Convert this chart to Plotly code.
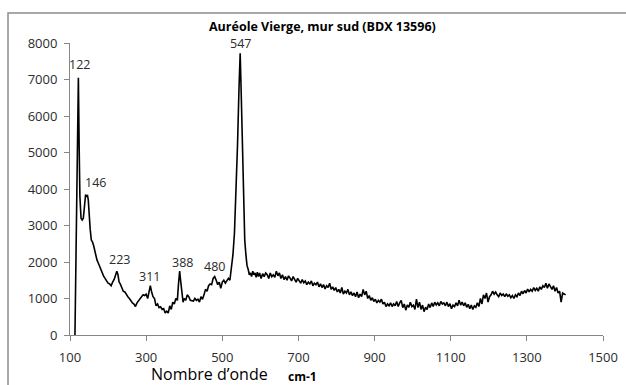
import plotly.graph_objects as go

# Raman spectrum (wavenumber cm-1, intensity)
wavenumber = [
    113, 116, 119, 122, 124, 126, 129, 132, 135, 138, 141, 143, 146, 148, 150, 153, 156, 159, 162, 165,
    168, 171, 174, 177, 180, 184, 188, 192, 196, 200, 204, 208, 212, 216, 220, 223, 226, 229, 232, 236,
    240, 244, 248, 252, 256, 260, 264, 268, 272, 276, 280, 284, 288, 292, 296, 300, 304, 308, 311, 314,
    318, 322, 326, 330, 334, 338, 342, 346, 350, 354, 358, 362, 366, 370, 374, 378, 382, 385, 388, 391,
    394, 397, 400, 404, 408, 412, 416, 420, 424, 428, 432, 436, 440, 444, 448, 452, 456, 460, 464, 468,
    472, 476, 480, 484, 488, 492, 496, 500, 504, 508, 512, 516, 520, 524, 528, 532, 536, 540, 544, 547,
    550, 553, 556, 559, 562, 565, 568, 571, 574, 577, 580, 583, 586, 589, 592, 595, 598, 602, 606, 610,
    614, 618, 622, 626, 630, 634, 638, 642, 646, 650, 654, 658, 662, 666, 670, 674, 678, 682, 686, 690,
    694, 698, 702, 706, 710, 714, 718, 722, 726, 730, 734, 738, 742, 746, 750, 754, 758, 762, 766, 770,
    774, 778, 782, 786, 790, 794, 798, 802, 806, 810, 814, 818, 822, 826, 830, 834, 838, 842, 846, 850,
    854, 858, 862, 866, 870, 874, 878, 882, 886, 890, 894, 898, 902, 906, 910, 914, 918, 922, 926, 930,
    934, 938, 942, 946, 950, 954, 958, 962, 966, 970, 974, 978, 982, 986, 990, 994, 998, 1002, 1006, 1010,
    1014, 1018, 1022, 1026, 1030, 1034, 1038, 1042, 1046, 1050, 1054, 1058, 1062, 1066, 1070, 1074, 1078, 1082, 1086, 1090,
    1094, 1098, 1102, 1106, 1110, 1114, 1118, 1122, 1126, 1130, 1134, 1138, 1142, 1146, 1150, 1154, 1158, 1162, 1166, 1170,
    1174, 1178, 1182, 1186, 1190, 1194, 1198, 1202, 1206, 1210, 1214, 1218, 1222, 1226, 1230, 1234, 1238, 1242, 1246, 1250,
    1254, 1258, 1262, 1266, 1270, 1274, 1278, 1282, 1286, 1290, 1294, 1298, 1302, 1306, 1310, 1314, 1318, 1322, 1326, 1330,
    1334, 1338, 1342, 1346, 1350, 1354, 1358, 1362, 1366, 1370, 1374, 1378, 1382, 1386, 1390, 1394, 1398, 1402,
]
intensity = [
    0, 2500, 5500, 7050, 5200, 3800, 3200, 3150, 3200, 3500, 3850, 3800, 3820, 3700, 3300, 2900, 2600, 2550, 2450, 2300,
    2150, 2050, 1980, 1900, 1800, 1700, 1620, 1550, 1480, 1420, 1400, 1350, 1450, 1520, 1650, 1750, 1650, 1450, 1400, 1300,
    1200, 1180, 1100, 1050, 1000, 920, 880, 850, 780, 880, 950, 1000, 1050, 1100, 1080, 1120, 1000, 1200, 1350, 1200,
    1050, 1000, 800, 850, 750, 770, 700, 720, 600, 650, 600, 800, 700, 900, 850, 1000, 950, 1400, 1750, 1450,
    1100, 900, 1000, 950, 1100, 1050, 950, 950, 930, 1000, 950, 980, 900, 1050, 980, 1100, 1250, 1200, 1350, 1400,
    1380, 1550, 1600, 1500, 1380, 1450, 1280, 1450, 1500, 1420, 1480, 1550, 1500, 1800, 2200, 2800, 3800, 5200, 6800, 7720,
    6500, 5000, 3600, 2600, 2200, 1900, 1800, 1650, 1700, 1600, 1750, 1650, 1700, 1580, 1720, 1600, 1700, 1550, 1680, 1600,
    1700, 1650, 1550, 1700, 1600, 1650, 1580, 1750, 1620, 1700, 1550, 1650, 1520, 1600, 1500, 1620, 1560, 1480, 1600, 1520,
    1450, 1550, 1480, 1420, 1520, 1430, 1480, 1380, 1450, 1400, 1480, 1350, 1420, 1380, 1450, 1320, 1400, 1300, 1380, 1260,
    1350, 1300, 1420, 1250, 1320, 1220, 1300, 1180, 1250, 1150, 1300, 1120, 1200, 1150, 1250, 1100, 1180, 1080, 1150, 1050,
    1180, 1020, 1120, 1050, 1250, 1100, 1200, 1000, 1080, 950, 1020, 920, 980, 880, 950, 900, 980, 850, 900, 780,
    850, 800, 880, 780, 850, 800, 920, 780, 880, 950, 750, 850, 680, 820, 760, 900, 780, 820, 700, 980,
    750, 900, 700, 820, 640, 760, 700, 850, 750, 880, 780, 900, 820, 880, 800, 920, 850, 880, 800, 900,
    780, 860, 720, 820, 780, 880, 800, 950, 820, 900, 800, 880, 760, 840, 720, 820, 700, 800, 760, 880,
    780, 1000, 850, 1100, 1000, 1150, 900, 1050, 1100, 1200, 1120, 1180, 1100, 1050, 1150, 1080, 1120, 1050, 1130, 1060,
    1100, 1020, 1080, 1000, 1100, 1050, 1150, 1080, 1200, 1130, 1220, 1150, 1260, 1180, 1250, 1200, 1300, 1220, 1280, 1200,
    1320, 1250, 1350, 1300, 1420, 1280, 1400, 1300, 1250, 1350, 1200, 1300, 1150, 1200, 900, 1150, 1120, 1100,
]

# peak labels
peak_text = ["122", "146", "223", "311", "388", "480", "547"]
peak_label_x = [125, 168, 231, 310, 395, 480, 549]
peak_label_y = [7400, 4190, 2055, 1590, 1975, 1865, 8000]

x_ticks = [100, 300, 500, 700, 900, 1100, 1300, 1500]
y_ticks = [0, 1000, 2000, 3000, 4000, 5000, 6000, 7000, 8000]

FONT = "Open Sans"
TXT = "#2b2b2b"
AX = "#868686"

fig = go.Figure()
fig.add_trace(go.Scatter(
    x=wavenumber, y=intensity, mode="lines",
    line=dict(color="black", width=1.6), hoverinfo="skip", showlegend=False,
))

for t, xx, yy in zip(peak_text, peak_label_x, peak_label_y):
    fig.add_annotation(x=xx, y=yy, text=t, showarrow=False, xref="x", yref="y",
                       xanchor="center", yanchor="middle",
                       font=dict(family=FONT, size=12.5, color=TXT))

fig.add_annotation(x=0.473, y=1.058, xref="paper", yref="paper", text="<b>Auréole Vierge, mur sud (BDX 13596)</b>",
                   showarrow=False, xanchor="center", yanchor="middle",
                   font=dict(family=FONT, size=12.5, color="black"))
fig.add_annotation(x=0.148, y=-0.1336, xref="paper", yref="paper", text="Nombre d’onde",
                   showarrow=False, xanchor="left", yanchor="middle",
                   font=dict(family=FONT, size=16, color="black"))
fig.add_annotation(x=0.405, y=-0.143, xref="paper", yref="paper", text="<b>cm-1</b>",
                   showarrow=False, xanchor="left", yanchor="middle",
                   font=dict(family=FONT, size=12, color="black"))

# outer frame
fig.add_shape(type="rect", xref="paper", yref="paper", x0=-0.1163, x1=1.05, y0=-0.2, y1=1.1027,
              line=dict(color="#8c8c8c", width=1.5))

fig.update_layout(
    width=626, height=385,
    margin=dict(l=70, r=23, t=43, b=50, autoexpand=False),
    paper_bgcolor="white", plot_bgcolor="white",
    font=dict(family=FONT, size=13, color=TXT),
    xaxis=dict(range=[100, 1500], tickvals=x_ticks, ticks="outside", ticklen=5, tickcolor=AX,
               showline=True, linecolor=AX, linewidth=1, showgrid=False, zeroline=False,
               automargin=False, ticklabelstandoff=5, tickfont=dict(family=FONT, size=13, color=TXT)),
    yaxis=dict(range=[0, 8000], tickvals=y_ticks, ticks="outside", ticklen=5, tickcolor=AX,
               showline=True, linecolor=AX, linewidth=1, showgrid=False, zeroline=False,
               automargin=False, ticklabelstandoff=4, tickfont=dict(family=FONT, size=13, color=TXT)),
)

fig.write_html("out.html", config={"displayModeBar": False},
               post_script="document.body.style.margin='0';document.body.style.overflow='hidden';")
